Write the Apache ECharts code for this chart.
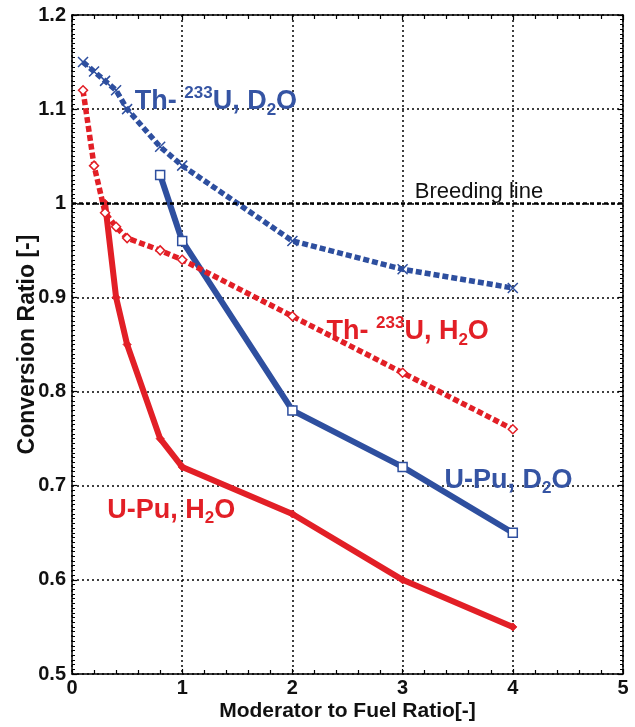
<!DOCTYPE html>
<html><head><meta charset="utf-8">
<script src="https://cdn.jsdelivr.net/npm/echarts@6/dist/echarts.min.js"></script>
<style>html,body{margin:0;padding:0;background:#fff}#c{width:635px;height:727px}</style>
</head><body><div id="c"></div>
<script>
// ---- data ----
const xThD2O  = [0.1, 0.2, 0.3, 0.4, 0.5, 0.8, 1, 2, 3, 4];
const yThD2O  = [1.15, 1.14, 1.13, 1.12, 1.10, 1.06, 1.04, 0.96, 0.93, 0.91];
const xThH2O  = [0.1, 0.2, 0.3, 0.4, 0.5, 0.8, 1, 2, 3, 4];
const yThH2O  = [1.12, 1.04, 0.99, 0.975, 0.963, 0.95, 0.94, 0.88, 0.82, 0.76];
const xUPuH2O = [0.3, 0.4, 0.5, 0.8, 1, 2, 3, 4];
const yUPuH2O = [1.00, 0.90, 0.85, 0.75, 0.72, 0.67, 0.60, 0.55];
const xUPuD2O = [0.8, 1, 2, 3, 4];
const yUPuD2O = [1.03, 0.96, 0.78, 0.72, 0.65];
const xTicks  = [0, 1, 2, 3, 4, 5];
const yTicks  = [0.5, 0.6, 0.7, 0.8, 0.9, 1.0, 1.1, 1.2];
const breedingLine = 1.0;
const xTitle = 'Moderator to Fuel Ratio[-]';
const yTitle = 'Conversion Ratio [-]';
// annotations: rich text and anchor (data coords, left / vertical middle)
const annotations = [
  {rich: '{a|Th- }{sup|233}{a|U, D}{sub|2}{a|O}', x: 0.57, y: 1.108, color: 'blue'},
  {rich: '{n|Breeding line}', x: 3.11, y: 1.012, color: 'black'},
  {rich: '{a|Th- }{sup|233}{a|U, H}{sub|2}{a|O}', x: 2.31, y: 0.864, color: 'red'},
  {rich: '{a|U-Pu, D}{sub|2}{a|O}', x: 3.38, y: 0.706, color: 'blue'},
  {rich: '{a|U-Pu, H}{sub|2}{a|O}', x: 0.32, y: 0.674, color: 'red'}
];

const RED = '#e21f26', BLUE = '#2e4f9f';
const zip = (xs, ys) => xs.map((x, i) => [x, ys[i]]);
const FONT = "'Liberation Sans', Arial, sans-serif";
const NARROW = "'Liberation Sans Narrow', 'Liberation Sans', Arial, sans-serif";

const chart = echarts.init(document.getElementById('c'), null, {renderer: 'canvas'});

const gridDotted = {show: true, lineStyle: {color: '#000', width: 1.5, type: [2, 3]}};
const baseX = {
  type: 'value', min: xTicks[0], max: xTicks[xTicks.length - 1], interval: 1,
  axisLine: {show: true, onZero: false, lineStyle: {color: '#000', width: 1.5}},
  axisTick: {show: true, inside: true, length: 5, lineStyle: {color: '#000', width: 1.2}},
  minorTick: {show: true, splitNumber: 5, length: 4, lineStyle: {color: '#000', width: 1.2}},
};
const baseY = {
  type: 'value', min: yTicks[0], max: yTicks[yTicks.length - 1], interval: 0.1,
  axisLine: {show: true, onZero: false, lineStyle: {color: '#000', width: 1.5}},
  axisTick: {show: true, inside: true, length: 5, lineStyle: {color: '#000', width: 1.2}},
  minorTick: {show: true, splitNumber: 20, length: 3, lineStyle: {color: '#000', width: 1}},
};

const xCross = 'path://M0,0L10,10M10,0L0,10';

chart.setOption({
  animation: false,
  backgroundColor: '#fff',
  grid: {left: 72, right: 12, top: 15, bottom: 48, containLabel: false},
  xAxis: [
    Object.assign({}, baseX, {
      position: 'bottom',
      name: xTitle, nameLocation: 'middle', nameGap: 27, nameMoveOverlap: false,
      nameTextStyle: {fontFamily: NARROW, fontWeight: 'bold', fontSize: 21, color: '#111'},
      axisLabel: {show: true, margin: 4, fontFamily: FONT, fontWeight: 'bold', fontSize: 20, color: '#111',
                  formatter: v => String(v)},
      splitLine: gridDotted
    }),
    Object.assign({}, baseX, {position: 'top', axisLabel: {show: false}, splitLine: {show: false}})
  ],
  yAxis: [
    Object.assign({}, baseY, {
      position: 'left',
      name: yTitle, nameLocation: 'middle', nameGap: 33, nameRotate: 90, nameMoveOverlap: false,
      nameTextStyle: {fontFamily: NARROW, fontWeight: 'bold', fontSize: 23, color: '#111'},
      axisLabel: {show: true, margin: 6, fontFamily: FONT, fontWeight: 'bold', fontSize: 20, color: '#111',
                  formatter: v => (Math.abs(v - 1) < 1e-9 ? '1' : v.toFixed(1))},
      splitLine: gridDotted
    }),
    Object.assign({}, baseY, {position: 'right', axisLabel: {show: false}, splitLine: {show: false}})
  ],
  series: [
    {
      name: 'U-Pu, D2O', type: 'line', data: zip(xUPuD2O, yUPuD2O), z: 3,
      lineStyle: {color: BLUE, width: 6},
      symbol: 'rect', symbolSize: 9,
      itemStyle: {color: '#fff', borderColor: BLUE, borderWidth: 1.5},
      markLine: {
        silent: true, symbol: ['none', 'none'], label: {show: false},
        lineStyle: {color: '#000', width: 2.5, type: [4, 3]},
        data: [{yAxis: breedingLine}]
      }
    },
    {
      name: 'U-Pu, H2O', type: 'line', data: zip(xUPuH2O, yUPuH2O), z: 3,
      lineStyle: {color: RED, width: 6},
      symbol: 'diamond', symbolSize: 8,
      itemStyle: {color: RED, borderColor: RED, borderWidth: 1}
    },
    {
      name: 'Th-233U, H2O', type: 'line', data: zip(xThH2O, yThH2O), z: 4,
      lineStyle: {color: RED, width: 5.5, type: [6, 3]},
      symbol: 'diamond', symbolSize: 9,
      itemStyle: {color: '#fff', borderColor: RED, borderWidth: 1.5}
    },
    {
      name: 'Th-233U, D2O', type: 'line', data: zip(xThD2O, yThD2O), z: 4,
      lineStyle: {color: BLUE, width: 5.5, type: [6, 3]},
      symbol: xCross, symbolSize: 10, symbolKeepAspect: true,
      itemStyle: {color: 'none', borderColor: BLUE, borderWidth: 1.5}
    }
  ]
});

const colorOf = {red: RED, blue: '#3554a3', black: '#111'};
const graphics = annotations.map(a => {
  const p = chart.convertToPixel({xAxisIndex: 0, yAxisIndex: 0}, [a.x, a.y]);
  const c = colorOf[a.color];
  return {
    type: 'text', x: p[0], y: p[1], z: 100, silent: true,
    style: {
      text: a.rich, verticalAlign: 'middle', align: 'left', fill: c,
      rich: {
        a:   {fontFamily: FONT, fontWeight: 'bold', fontSize: 27, fill: c, lineHeight: 34, verticalAlign: 'middle'},
        sup: {fontFamily: FONT, fontWeight: 'bold', fontSize: 17, fill: c, lineHeight: 22, verticalAlign: 'top'},
        sub: {fontFamily: FONT, fontWeight: 'bold', fontSize: 17, fill: c, lineHeight: 14, verticalAlign: 'bottom'},
        n:   {fontFamily: FONT, fontSize: 22, fill: c, lineHeight: 26, verticalAlign: 'middle'}
      }
    }
  };
});
chart.setOption({graphic: graphics});
</script>
</body></html>
